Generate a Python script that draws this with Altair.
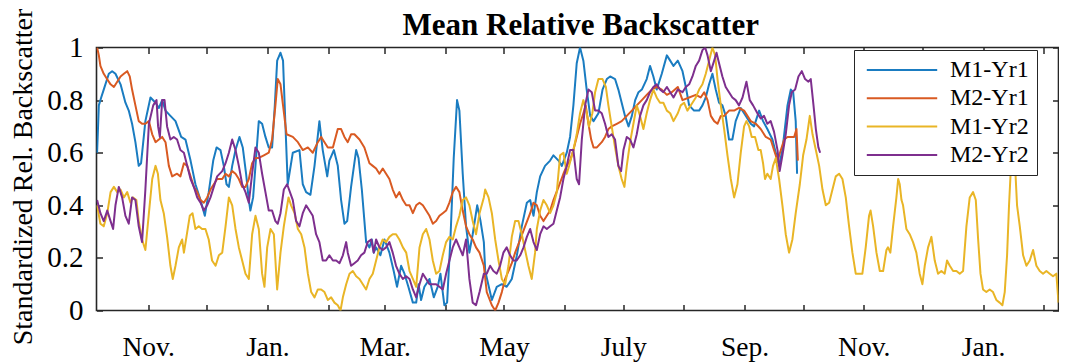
import altair as alt
import pandas as pd

FONT = "Liberation Serif"
START = pd.Timestamp("2015-10-01", tz="UTC")

chart_title = "Mean Relative Backscatter"
y_title = "Standardized Rel. Backscatter"
series_names = ["M1-Yr1", "M2-Yr1", "M1-Yr2", "M2-Yr2"]
series_colors = ["#1a7cc1", "#d95a22", "#e9b526", "#7e2f8e"]

# days since 2015-10-01 and standardized values
m1_yr1_days = [4.9, 5.8, 7.0, 8.3, 10.9, 12.6, 14.3, 16.9, 19.4, 21.1, 22.8, 24.5, 26.2, 27.4, 29.6, 32.2, 34.8, 36.5, 38.2, 39.9,
               42.4, 45.0, 47.9, 50.1, 52.7, 55.2, 57.8, 60.0, 62.0, 64.3, 66.0, 68.0, 69.7, 71.1, 72.3, 74.0, 75.7, 77.7, 79.4, 81.1,
               82.5, 83.3, 84.7, 86.4, 87.6, 89.3, 91.0, 92.7, 94.4, 95.8, 97.0, 98.7, 100.0, 101.2, 102.4, 105.0, 108.4, 110.1, 111.8, 114.0,
               116.1, 118.6, 120.3, 122.6, 123.7, 126.0, 128.0, 129.7, 131.4, 132.8, 134.8, 137.4, 138.6, 140.3, 142.5, 144.2, 145.4, 146.4, 147.6, 149.8,
               151.9, 154.4, 156.6, 158.3, 160.4, 162.1, 164.1, 166.4, 168.1, 169.3, 170.6, 172.3, 174.9, 177.1, 179.1, 180.5, 182.5, 183.9, 185.6, 187.3,
               189.0, 190.2, 191.9, 193.6, 195.3, 197.0, 199.3, 201.0, 202.7, 203.4, 206.8, 209.3, 211.9, 214.4, 217.0, 219.6, 222.1, 224.7, 226.4, 228.1,
               229.8, 231.5, 234.0, 236.6, 238.3, 240.9, 242.6, 245.1, 246.8, 248.5, 250.2, 251.9, 253.6, 255.3, 257.1, 258.8, 261.3, 263.4, 265.6, 267.3,
               269.8, 271.5, 273.2, 274.9, 276.7, 278.4, 280.1, 281.8, 283.5, 286.0, 287.7, 289.4, 291.1, 293.7, 296.3, 298.0, 299.7, 301.9, 304.3, 306.0,
               307.7, 310.2, 312.8, 314.5, 316.2, 317.9, 319.6, 321.3, 323.0, 324.7, 326.4, 328.1, 329.8, 331.5, 334.1, 336.7, 339.2, 340.9, 343.5, 345.5,
               347.7, 350.3, 352.0, 353.7, 355.4, 358.0, 359.7, 360.9, 362.2, 362.9]
m1_yr1_vals = [0.60, 0.78, 0.81, 0.84, 0.90, 0.91, 0.90, 0.86, 0.79, 0.76, 0.71, 0.64, 0.55, 0.56, 0.72, 0.81, 0.79, 0.77, 0.80, 0.76,
               0.74, 0.72, 0.66, 0.65, 0.57, 0.48, 0.42, 0.36, 0.45, 0.57, 0.62, 0.61, 0.55, 0.48, 0.47, 0.55, 0.61, 0.66, 0.62, 0.52,
               0.42, 0.38, 0.43, 0.60, 0.72, 0.71, 0.66, 0.62, 0.62, 0.78, 0.95, 0.98, 0.95, 0.71, 0.48, 0.60, 0.61, 0.48, 0.45, 0.44,
               0.55, 0.72, 0.61, 0.51, 0.57, 0.61, 0.55, 0.42, 0.33, 0.34, 0.47, 0.61, 0.58, 0.46, 0.26, 0.24, 0.27, 0.22, 0.24, 0.21,
               0.27, 0.22, 0.15, 0.09, 0.17, 0.14, 0.09, 0.03, 0.03, 0.10, 0.04, 0.09, 0.12, 0.05, 0.09, 0.14, 0.02, 0.03, 0.27, 0.58,
               0.80, 0.76, 0.52, 0.32, 0.22, 0.29, 0.40, 0.34, 0.26, 0.15, 0.04, 0.09, 0.10, 0.09, 0.12, 0.21, 0.32, 0.41, 0.42, 0.36,
               0.45, 0.51, 0.55, 0.57, 0.59, 0.57, 0.55, 0.60, 0.66, 0.78, 0.94, 1.00, 0.95, 0.84, 0.74, 0.72, 0.75, 0.84, 0.88, 0.89,
               0.88, 0.84, 0.79, 0.74, 0.70, 0.74, 0.80, 0.83, 0.84, 0.88, 0.93, 0.89, 0.84, 0.90, 0.97, 0.95, 0.93, 0.95, 0.91, 0.85,
               0.78, 0.76, 0.76, 0.78, 0.81, 0.86, 0.90, 0.84, 0.79, 0.78, 0.74, 0.65, 0.65, 0.72, 0.77, 0.74, 0.71, 0.70, 0.76, 0.72,
               0.69, 0.65, 0.60, 0.55, 0.61, 0.78, 0.84, 0.83, 0.72, 0.52]

m2_yr1_days = [4.9, 5.8, 6.6, 8.3, 10.0, 11.8, 13.5, 15.2, 16.9, 18.6, 20.3, 21.6, 22.8, 24.5, 26.2, 27.9, 29.6, 31.4, 33.1, 34.8,
               36.5, 38.2, 39.9, 41.6, 43.3, 45.8, 47.5, 49.3, 51.0, 52.7, 54.4, 56.1, 57.8, 59.5, 61.2, 62.9, 64.6, 66.3, 68.9, 70.6,
               72.3, 74.0, 75.7, 77.4, 79.1, 80.8, 82.5, 84.2, 85.9, 87.6, 90.2, 92.7, 94.4, 96.1, 97.3, 98.7, 100.0, 101.8, 105.0, 107.6,
               110.1, 112.7, 115.2, 117.8, 119.5, 121.2, 122.9, 125.5, 128.0, 129.7, 131.4, 133.1, 134.8, 136.5, 139.1, 141.6, 144.2, 145.9, 147.6, 149.3,
               151.0, 152.7, 154.4, 156.1, 157.8, 159.5, 161.3, 163.0, 164.7, 166.4, 168.1, 169.8, 171.5, 173.2, 174.9, 176.6, 178.3, 180.0, 181.7, 183.4,
               185.1, 186.8, 188.5, 190.2, 191.9, 193.6, 195.3, 197.0, 198.7, 200.5, 202.7, 204.2, 206.8, 208.5, 210.2, 211.9, 213.6, 215.3, 217.0, 218.7,
               221.3, 223.8, 226.4, 228.1, 229.8, 231.5, 233.2, 234.9, 236.6, 238.3, 240.9, 243.4, 245.1, 246.8, 248.5, 250.2, 251.9, 253.6, 254.8, 256.2,
               257.6, 258.8, 260.5, 263.0, 264.7, 266.4, 268.1, 270.7, 273.2, 275.8, 278.4, 280.9, 283.5, 286.0, 288.6, 291.1, 293.7, 296.3, 298.8, 301.9,
               304.3, 307.7, 311.1, 313.6, 315.4, 317.1, 318.8, 320.5, 322.2, 323.9, 325.6, 328.1, 330.7, 333.2, 335.8, 337.5, 339.2, 341.8, 344.3, 346.9,
               349.4, 351.1, 352.9, 354.6, 356.3, 358.0, 359.7, 361.4, 362.6, 363.3]
m2_yr1_vals = [1.00, 0.97, 0.93, 0.90, 0.88, 0.86, 0.85, 0.87, 0.89, 0.90, 0.91, 0.89, 0.84, 0.78, 0.72, 0.71, 0.71, 0.72, 0.67, 0.64,
               0.65, 0.66, 0.64, 0.55, 0.51, 0.52, 0.51, 0.56, 0.55, 0.51, 0.47, 0.45, 0.42, 0.41, 0.43, 0.46, 0.48, 0.50, 0.50, 0.52,
               0.51, 0.53, 0.52, 0.50, 0.47, 0.47, 0.50, 0.56, 0.58, 0.58, 0.59, 0.60, 0.65, 0.78, 0.88, 0.86, 0.78, 0.67, 0.66, 0.64,
               0.61, 0.62, 0.60, 0.64, 0.66, 0.64, 0.62, 0.62, 0.69, 0.69, 0.66, 0.64, 0.67, 0.67, 0.65, 0.62, 0.56, 0.55, 0.54, 0.52,
               0.54, 0.52, 0.50, 0.46, 0.43, 0.45, 0.42, 0.40, 0.40, 0.37, 0.40, 0.41, 0.40, 0.38, 0.36, 0.33, 0.34, 0.36, 0.37, 0.38,
               0.41, 0.45, 0.47, 0.45, 0.38, 0.32, 0.29, 0.27, 0.24, 0.22, 0.17, 0.07, 0.02, 0.00, 0.03, 0.07, 0.12, 0.15, 0.18, 0.22,
               0.27, 0.32, 0.37, 0.41, 0.40, 0.36, 0.34, 0.36, 0.38, 0.42, 0.47, 0.52, 0.55, 0.57, 0.61, 0.66, 0.71, 0.75, 0.78, 0.71,
               0.65, 0.62, 0.62, 0.64, 0.66, 0.69, 0.70, 0.71, 0.72, 0.74, 0.76, 0.78, 0.80, 0.82, 0.84, 0.85, 0.84, 0.82, 0.83, 0.85,
               0.80, 0.81, 0.82, 0.81, 0.83, 0.80, 0.74, 0.72, 0.71, 0.74, 0.74, 0.76, 0.76, 0.77, 0.76, 0.74, 0.72, 0.71, 0.69, 0.66,
               0.65, 0.61, 0.57, 0.61, 0.65, 0.66, 0.66, 0.66, 0.69, 0.57]

m1_yr2_days = [4.9, 6.6, 8.3, 10.1, 11.8, 13.5, 15.2, 16.9, 18.6, 20.3, 22.0, 23.3, 25.0, 26.2, 27.9, 29.6, 31.4, 33.1, 34.8, 36.0,
               37.3, 39.0, 40.7, 42.4, 43.6, 45.0, 46.7, 48.4, 49.3, 50.6, 52.3, 53.7, 55.2, 56.9, 58.6, 60.3, 62.0, 63.7, 65.5, 67.2,
               68.9, 70.6, 72.3, 74.0, 75.7, 77.4, 79.1, 80.8, 82.5, 84.2, 85.9, 87.6, 89.3, 90.5, 91.9, 93.6, 95.3, 97.0, 98.7, 100.4,
               102.8, 104.1, 105.9, 107.6, 109.3, 111.0, 112.7, 114.4, 116.1, 117.8, 119.5, 121.2, 122.9, 124.6, 126.3, 128.0, 129.4, 130.6, 132.3, 134.0,
               135.7, 137.4, 139.1, 140.8, 142.5, 144.2, 145.9, 147.6, 149.3, 151.0, 152.7, 154.4, 156.1, 157.8, 159.5, 161.3, 163.0, 164.7, 166.4, 168.1,
               169.8, 171.5, 173.2, 174.9, 176.6, 178.3, 180.0, 181.7, 183.4, 185.1, 186.8, 188.5, 190.2, 191.9, 193.6, 195.3, 197.0, 198.7, 200.5, 202.7,
               203.4, 205.1, 206.8, 208.5, 210.2, 211.9, 213.6, 215.3, 217.0, 218.7, 220.4, 222.1, 223.8, 225.5, 227.2, 228.9, 229.8, 231.5, 233.2, 234.9,
               236.6, 238.3, 240.0, 241.7, 243.4, 245.1, 246.3, 248.5, 250.2, 251.9, 253.6, 255.3, 256.5, 258.2, 259.6, 261.3, 263.4, 265.1, 266.4, 268.1,
               269.8, 271.5, 273.2, 274.6, 275.8, 277.5, 279.2, 280.9, 282.6, 284.3, 286.0, 287.7, 289.4, 291.1, 292.8, 294.5, 296.3, 298.0, 299.7, 301.9,
               303.4, 305.1, 306.8, 309.4, 311.1, 312.8, 314.5, 316.2, 317.9, 319.6, 321.0, 322.2, 323.9, 325.6, 327.3, 329.0, 330.7, 332.4, 334.1, 335.8,
               337.0, 338.4, 339.7, 341.4, 343.1, 344.3, 345.5, 346.5, 347.7, 349.4, 350.6, 352.0, 353.7, 355.4, 357.1, 358.8, 360.5, 362.2, 364.3, 366.0,
               367.7, 369.4, 370.8, 372.5, 374.2, 375.9, 377.6, 379.3, 381.0, 382.7, 384.4, 386.1, 387.8, 389.5, 391.2, 392.9, 394.6, 396.3, 398.0, 399.7,
               400.5, 401.8, 403.5, 405.2, 406.9, 408.6, 409.4, 410.6, 412.0, 413.7, 414.6, 415.4, 416.3, 417.1, 418.8, 420.5, 422.2, 423.9, 425.6, 427.0,
               428.2, 429.9, 431.6, 433.3, 435.0, 436.7, 438.4, 439.6, 441.0, 442.7, 444.4, 446.1, 447.8, 449.5, 451.2, 452.9, 454.3, 455.5, 456.7, 458.0,
               459.7, 461.4, 463.1, 464.8, 466.5, 467.9, 469.1, 470.3, 471.3, 472.3, 473.4, 474.4, 475.4, 476.8, 478.5, 480.2, 481.9, 483.6, 485.3, 487.0,
               488.7, 490.4, 492.1, 493.8, 495.5, 496.6]
m1_yr2_vals = [0.40, 0.33, 0.32, 0.37, 0.45, 0.47, 0.45, 0.46, 0.43, 0.45, 0.41, 0.43, 0.42, 0.34, 0.27, 0.23, 0.37, 0.50, 0.55, 0.52,
               0.42, 0.37, 0.28, 0.17, 0.12, 0.17, 0.24, 0.27, 0.22, 0.28, 0.36, 0.37, 0.31, 0.32, 0.31, 0.31, 0.27, 0.19, 0.17, 0.21,
               0.22, 0.32, 0.43, 0.40, 0.31, 0.24, 0.19, 0.14, 0.12, 0.29, 0.36, 0.31, 0.14, 0.09, 0.24, 0.31, 0.29, 0.08, 0.22, 0.32,
               0.43, 0.40, 0.37, 0.31, 0.29, 0.24, 0.14, 0.07, 0.05, 0.08, 0.08, 0.07, 0.04, 0.05, 0.03, 0.02, 0.00, 0.05, 0.10, 0.14,
               0.15, 0.13, 0.12, 0.10, 0.08, 0.12, 0.14, 0.19, 0.24, 0.27, 0.26, 0.28, 0.29, 0.29, 0.27, 0.24, 0.22, 0.15, 0.12, 0.09,
               0.24, 0.29, 0.31, 0.27, 0.19, 0.14, 0.15, 0.21, 0.26, 0.28, 0.27, 0.32, 0.36, 0.42, 0.43, 0.40, 0.34, 0.29, 0.37, 0.43,
               0.46, 0.43, 0.37, 0.27, 0.19, 0.12, 0.10, 0.17, 0.28, 0.34, 0.34, 0.29, 0.23, 0.17, 0.12, 0.22, 0.31, 0.38, 0.42, 0.40,
               0.37, 0.40, 0.45, 0.59, 0.60, 0.52, 0.55, 0.61, 0.67, 0.75, 0.80, 0.75, 0.70, 0.75, 0.83, 0.88, 0.88, 0.85, 0.78, 0.70,
               0.62, 0.55, 0.50, 0.47, 0.55, 0.64, 0.71, 0.78, 0.74, 0.69, 0.75, 0.80, 0.84, 0.81, 0.79, 0.79, 0.76, 0.75, 0.72, 0.75,
               0.78, 0.79, 0.76, 0.79, 0.81, 0.84, 0.86, 0.90, 0.95, 1.00, 0.97, 0.88, 0.78, 0.69, 0.59, 0.50, 0.43, 0.48, 0.60, 0.70,
               0.72, 0.70, 0.66, 0.66, 0.61, 0.61, 0.56, 0.50, 0.52, 0.50, 0.55, 0.58, 0.50, 0.40, 0.29, 0.22, 0.27, 0.37, 0.48, 0.59,
               0.65, 0.74, 0.67, 0.61, 0.55, 0.46, 0.40, 0.41, 0.46, 0.51, 0.52, 0.50, 0.43, 0.32, 0.22, 0.14, 0.14, 0.14, 0.24, 0.36,
               0.38, 0.32, 0.22, 0.15, 0.15, 0.23, 0.24, 0.22, 0.32, 0.43, 0.50, 0.48, 0.42, 0.40, 0.31, 0.29, 0.26, 0.22, 0.14, 0.10,
               0.17, 0.24, 0.28, 0.19, 0.14, 0.15, 0.14, 0.19, 0.17, 0.15, 0.15, 0.14, 0.15, 0.32, 0.43, 0.45, 0.42, 0.27, 0.14, 0.08,
               0.07, 0.08, 0.07, 0.04, 0.03, 0.02, 0.07, 0.21, 0.40, 0.55, 0.60, 0.55, 0.40, 0.32, 0.21, 0.17, 0.19, 0.23, 0.17, 0.15,
               0.14, 0.15, 0.14, 0.13, 0.14, 0.03]

m2_yr2_days = [4.9, 6.6, 8.3, 10.1, 11.8, 13.1, 14.3, 16.0, 17.7, 19.4, 21.1, 22.8, 24.5, 26.2, 27.9, 29.6, 31.4, 33.6, 35.3, 36.1,
               37.0, 38.2, 39.4, 40.7, 42.4, 44.1, 45.8, 47.5, 49.3, 51.0, 52.7, 54.4, 56.1, 57.8, 59.5, 61.2, 62.9, 64.6, 66.3, 68.9,
               70.6, 72.3, 74.0, 75.7, 77.4, 79.1, 80.8, 82.5, 84.2, 85.9, 87.6, 89.3, 91.0, 92.7, 94.4, 96.1, 97.3, 98.7, 100.4, 102.1,
               105.0, 106.7, 108.4, 110.1, 111.8, 113.5, 115.2, 116.9, 118.6, 120.3, 122.0, 123.7, 125.5, 127.2, 128.9, 130.6, 132.3, 133.1, 134.8, 136.5,
               138.2, 139.9, 141.6, 143.3, 145.1, 146.4, 147.6, 149.3, 151.0, 152.7, 154.4, 156.1, 157.8, 159.5, 161.3, 163.0, 164.7, 166.4, 168.1, 169.8,
               171.5, 173.2, 174.9, 176.6, 178.3, 180.0, 181.7, 183.4, 185.1, 186.8, 188.5, 190.2, 191.9, 193.6, 195.3, 197.0, 198.7, 200.5, 202.7, 204.2,
               205.9, 207.6, 209.3, 211.0, 212.7, 214.4, 216.1, 217.8, 219.5, 221.3, 223.0, 224.7, 226.4, 228.1, 229.8, 231.5, 233.2, 234.9, 236.6, 238.3,
               240.0, 241.7, 243.4, 245.1, 246.8, 248.5, 250.2, 251.4, 252.8, 254.5, 256.2, 257.9, 259.6, 261.3, 263.0, 264.7, 266.4, 268.1, 269.8, 271.5,
               272.9, 274.1, 275.8, 277.5, 279.2, 280.9, 282.6, 284.3, 286.0, 287.7, 289.4, 291.1, 292.8, 294.5, 296.3, 298.0, 299.7, 301.9, 304.3, 306.0,
               307.7, 309.4, 311.1, 312.8, 314.5, 315.9, 317.1, 318.8, 320.5, 321.7, 323.0, 324.7, 326.4, 328.1, 329.8, 331.5, 333.2, 335.0, 337.0, 338.7,
               340.4, 342.6, 344.3, 346.0, 347.7, 349.4, 351.1, 352.9, 354.0, 355.4, 357.1, 358.8, 360.2, 361.9, 363.6, 365.3, 367.0, 368.7, 369.9, 371.3,
               372.5, 373.8, 374.7]
m2_yr2_vals = [0.42, 0.37, 0.34, 0.38, 0.34, 0.31, 0.40, 0.47, 0.43, 0.36, 0.33, 0.43, 0.42, 0.32, 0.26, 0.46, 0.71, 0.78, 0.80, 0.70,
               0.66, 0.80, 0.80, 0.70, 0.65, 0.66, 0.65, 0.61, 0.60, 0.55, 0.50, 0.47, 0.43, 0.41, 0.38, 0.40, 0.43, 0.47, 0.51, 0.53,
               0.56, 0.60, 0.65, 0.61, 0.55, 0.48, 0.45, 0.41, 0.52, 0.62, 0.60, 0.52, 0.45, 0.38, 0.38, 0.34, 0.33, 0.37, 0.46, 0.48,
               0.42, 0.34, 0.32, 0.37, 0.40, 0.38, 0.36, 0.29, 0.26, 0.19, 0.19, 0.21, 0.19, 0.19, 0.18, 0.21, 0.26, 0.22, 0.17, 0.18,
               0.19, 0.21, 0.22, 0.26, 0.27, 0.22, 0.27, 0.24, 0.23, 0.24, 0.26, 0.22, 0.17, 0.14, 0.12, 0.13, 0.12, 0.08, 0.05, 0.10,
               0.14, 0.12, 0.10, 0.10, 0.10, 0.09, 0.08, 0.14, 0.19, 0.24, 0.27, 0.24, 0.21, 0.27, 0.12, 0.03, 0.02, 0.07, 0.14, 0.14,
               0.17, 0.15, 0.14, 0.17, 0.22, 0.24, 0.21, 0.19, 0.19, 0.21, 0.24, 0.28, 0.31, 0.26, 0.23, 0.29, 0.32, 0.31, 0.32, 0.33,
               0.38, 0.43, 0.50, 0.55, 0.61, 0.61, 0.50, 0.48, 0.65, 0.78, 0.84, 0.83, 0.76, 0.76, 0.75, 0.71, 0.66, 0.67, 0.65, 0.55,
               0.53, 0.61, 0.66, 0.65, 0.62, 0.67, 0.74, 0.78, 0.80, 0.83, 0.85, 0.86, 0.84, 0.83, 0.85, 0.83, 0.81, 0.84, 0.83, 0.85,
               0.86, 0.89, 0.93, 0.95, 0.99, 1.00, 0.97, 0.91, 0.95, 0.98, 0.94, 0.89, 0.85, 0.83, 0.81, 0.80, 0.78, 0.81, 0.87, 0.80,
               0.78, 0.75, 0.73, 0.74, 0.71, 0.72, 0.68, 0.61, 0.53, 0.59, 0.67, 0.78, 0.83, 0.84, 0.89, 0.91, 0.88, 0.87, 0.88, 0.78,
               0.69, 0.62, 0.60]

series_days = [m1_yr1_days, m2_yr1_days, m1_yr2_days, m2_yr2_days]
series_vals = [m1_yr1_vals, m2_yr1_vals, m1_yr2_vals, m2_yr2_vals]

x_domain_days = [4.6, 496.6]
tick_months = pd.date_range("2015-11-01", "2017-02-01", freq="MS", tz="UTC")
month_labels = {10: "Nov.", 0: "Jan.", 2: "Mar.", 4: "May", 6: "July", 8: "Sep."}
y_ticks = [0, 0.2, 0.4, 0.6, 0.8, 1]


def to_ms(days):
    return int((START + pd.Timedelta(days=days)).value // 10**6)


rows = []
for name, days, vals in zip(series_names, series_days, series_vals):
    for d, v in zip(days, vals):
        rows.append({"series": name, "t": to_ms(d), "v": v})
df = pd.DataFrame(rows)

x_values = [int(t.value // 10**6) for t in tick_months]
label_expr = " : ".join(f"utcmonth(datum.value) == {m} ? '{lab}'" for m, lab in month_labels.items()) + " : ''"

AX = "#262626"
W, H = 962, 263
x_scale = alt.Scale(type="utc", domain=[to_ms(x_domain_days[0]), to_ms(x_domain_days[1])])
y_scale = alt.Scale(domain=[0, 1], nice=False, zero=False)

common = dict(grid=False, domain=False, ticks=True, tickSize=6, tickWidth=1.5, tickColor=AX, offset=-6)

lines = alt.Chart(df).mark_line(strokeWidth=2, strokeJoin="round", clip=True).encode(
    x=alt.X("t:T", scale=x_scale, axis=alt.Axis(
        orient="bottom", values=x_values, labelExpr=label_expr, title=None,
        labelFont=FONT, labelFontSize=27.5, labelColor="black", labelPadding=45,
        labelBaseline="alphabetic", labelAlign="center", labelFlush=False, labelOverlap=False,
        labelAngle=0, **common)),
    y=alt.Y("v:Q", scale=y_scale, axis=alt.Axis(
        orient="left", values=y_ticks, format=".1~f", title=y_title,
        titleFont=FONT, titleFontSize=28, titleFontWeight="normal", titleColor="black",
        titleX=-71, titleY=129, titleAlign="center", titleBaseline="alphabetic",
        labelFont=FONT, labelFontSize=29, labelColor="black", labelPadding=13.5,
        labelBaseline="middle", labelAlign="right", labelFlush=False, labelOverlap=False, **common)),
    color=alt.Color("series:N", scale=alt.Scale(domain=series_names, range=series_colors),
                    legend=alt.Legend(
                        title=None, orient="none", legendX=757.5, legendY=2.5,
                        symbolType="M-3.2,0H3.2", symbolSize=484, symbolStrokeWidth=2,
                        symbolOffset=28, labelOffset=36, padding=8, rowPadding=4.3,
                        labelFont=FONT, labelFontSize=24, labelColor="black",
                        strokeColor=AX, fillColor="white", cornerRadius=0)),
)

frame = alt.Chart(df).mark_line(opacity=0).encode(
    x=alt.X("t:T", scale=x_scale, axis=alt.Axis(
        orient="top", values=x_values, labels=False, title=chart_title,
        titleFont=FONT, titleFontSize=31, titleFontWeight="bold", titleColor="black",
        titleX=(1064 - 96.5) / 2, titleY=-19.5, titleAlign="center", titleBaseline="alphabetic", **common)),
    y=alt.Y("v:Q", scale=y_scale, axis=alt.Axis(orient="right", values=y_ticks, labels=False, title=None, **common)),
)

chart = alt.layer(lines, frame).resolve_axis(x="independent", y="independent").properties(
    width=W, height=H,
    autosize=alt.AutoSizeParams(type="none"),
    padding={"left": 88.5, "top": 39.5, "right": 0.5, "bottom": 52},
).configure_view(stroke=AX, strokeWidth=1.6)

chart.save("out.html", embed_options={"renderer": "svg", "actions": False})
